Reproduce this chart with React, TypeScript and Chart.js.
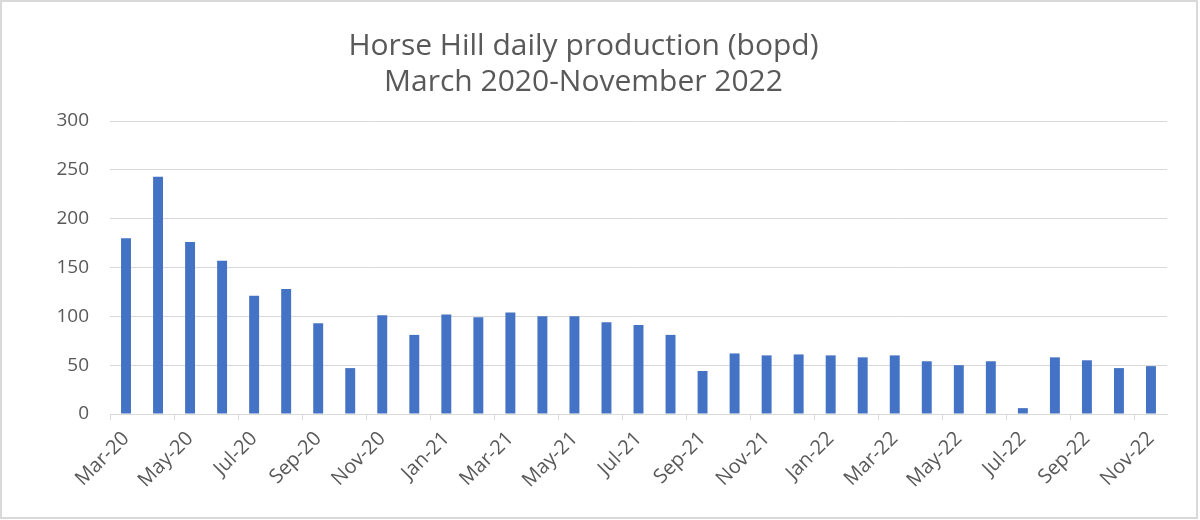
import React, { useEffect, useRef } from "react";
import { Chart, registerables } from "chart.js";

Chart.register(...registerables);

const months: string[] = [
  "Mar-20", "Apr-20", "May-20", "Jun-20", "Jul-20", "Aug-20", "Sep-20", "Oct-20", "Nov-20", "Dec-20",
  "Jan-21", "Feb-21", "Mar-21", "Apr-21", "May-21", "Jun-21", "Jul-21", "Aug-21", "Sep-21", "Oct-21", "Nov-21", "Dec-21",
  "Jan-22", "Feb-22", "Mar-22", "Apr-22", "May-22", "Jun-22", "Jul-22", "Aug-22", "Sep-22", "Oct-22", "Nov-22",
];

const production: number[] = [
  180, 243, 176, 157, 121, 128, 93, 47, 101, 81,
  102, 99, 104, 100, 100, 94, 91, 81, 44, 62, 60, 61,
  60, 58, 60, 54, 50, 54, 6, 58, 55, 47, 49,
];

const titleLines: string[] = ["Horse Hill daily production (bopd)", "March 2020-November 2022"];

const yTicks = { min: 0, max: 300, step: 50 };

const TEXT = "#595959";
const GRID = "#D9D9D9";
const BAR = "#4472C4";
const FONT = "'Open Sans', sans-serif";

export default function App() {
  const ref = useRef<HTMLCanvasElement | null>(null);

  useEffect(() => {
    if (!ref.current) return;
    const chart = new Chart(ref.current, {
      type: "bar",
      data: {
        labels: months,
        datasets: [
          {
            label: "bopd",
            data: production,
            backgroundColor: BAR,
            borderWidth: 0,
            categoryPercentage: 1,
            barPercentage: 0.31,
          },
        ],
      },
      options: {
        responsive: false,
        animation: false,
        layout: { padding: { left: 0, right: 33, top: 0, bottom: 0 } },
        plugins: {
          legend: { display: false },
          tooltip: { enabled: false },
          title: {
            display: true,
            text: titleLines,
            color: TEXT,
            font: { family: FONT, size: 30, weight: "normal", lineHeight: 1.2 },
            padding: { top: 28, bottom: 21 },
          },
        },
        scales: {
          x: {
            type: "category",
            offset: true,
            grid: {
              offset: true,
              drawOnChartArea: false,
              drawTicks: true,
              tickLength: 6,
              color: (ctx: any) => (ctx.index % 2 === 0 ? GRID : "rgba(0,0,0,0)"),
            },
            border: { display: true, color: GRID, width: 1 },
            ticks: {
              autoSkip: false,
              maxRotation: 45,
              minRotation: 45,
              padding: 7,
              color: TEXT,
              font: { family: FONT, size: 20 },
              callback: (_v: any, i: number) => (i % 2 === 0 ? months[i] : ""),
            },
            afterFit: (s: any) => {
              s.height = 106;
            },
          },
          y: {
            min: yTicks.min,
            max: yTicks.max,
            ticks: {
              stepSize: yTicks.step,
              padding: 21,
              color: TEXT,
              font: { family: FONT, size: 19 },
            },
            grid: { color: GRID, drawTicks: false, lineWidth: 1 },
            border: { display: false },
            afterFit: (s: any) => {
              s.width = 110;
            },
          },
        },
      },
    });
    return () => chart.destroy();
  }, []);

  return (
    <div style={{ position: "fixed", left: 0, top: 0, width: 1200, height: 520, background: "#fff" }}>
      <canvas ref={ref} width={1200} height={520} style={{ display: "block" }} />
      <div
        style={{
          position: "absolute",
          left: 0,
          top: 0,
          width: 1198,
          height: 519,
          boxSizing: "border-box",
          border: "2px solid #D9D9D9",
          pointerEvents: "none",
        }}
      />
    </div>
  );
}
